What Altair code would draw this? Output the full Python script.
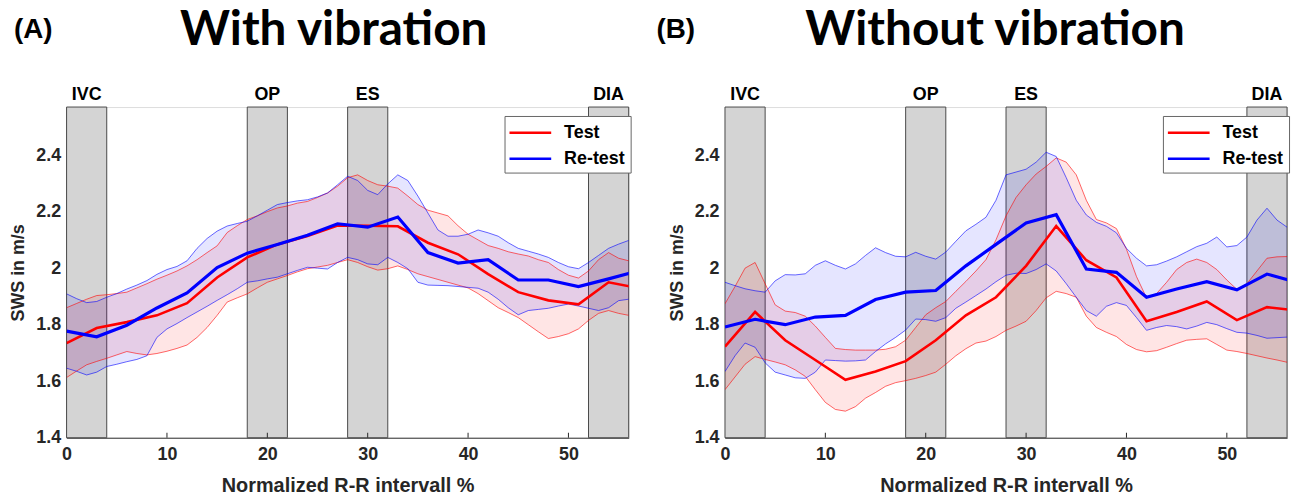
import altair as alt
import pandas as pd

# ---------------- data ----------------
SERIES = ["Test", "Re-test"]
COLORS = ["#ff0000", "#0000ff"]

X_GRID = list(range(0, 58))          # x positions of the SD band edges
MEAN_X = list(range(0, 58, 3))       # knots of the mean curves

PHASES = ["IVC", "OP", "ES", "DIA"]
PHASE_START = [0, 18, 28, 52]
PHASE_END = [4, 22, 32, 56]

X_TICKS = [0, 10, 20, 30, 40, 50]
Y_TICKS = [1.4, 1.6, 1.8, 2.0, 2.2, 2.4]

# (A) With vibration
A_TEST_MEAN = [1.735, 1.788, 1.809, 1.833, 1.876, 1.967, 2.038, 2.084, 2.114, 2.151,
               2.150, 2.148, 2.090, 2.049, 1.979, 1.915, 1.886, 1.872, 1.950, 1.929]
A_RETEST_MEAN = [1.777, 1.757, 1.798, 1.859, 1.912, 2.002, 2.053, 2.084, 2.116, 2.157,
                 2.145, 2.181, 2.055, 2.018, 2.030, 1.958, 1.958, 1.935, 1.962, 1.991]
A_TEST_HI = [1.860, 1.875, 1.890, 1.903, 1.906, 1.910, 1.915, 1.930, 1.945, 1.961,
             1.975, 1.990, 2.008, 2.030, 2.055, 2.079, 2.126, 2.150, 2.172, 2.185,
             2.200, 2.213, 2.220, 2.230, 2.236, 2.250, 2.266, 2.290, 2.320, 2.330,
             2.310, 2.295, 2.290, 2.283, 2.255, 2.225, 2.205, 2.195, 2.185, 2.150,
             2.120, 2.100, 2.080, 2.070, 2.058, 2.050, 2.043, 2.030, 2.020, 1.995,
             1.975, 1.965, 1.990, 2.030, 2.055, 2.035, 2.026, 2.026]
A_TEST_LO = [1.613, 1.636, 1.658, 1.670, 1.681, 1.693, 1.705, 1.698, 1.693, 1.698,
             1.706, 1.716, 1.728, 1.755, 1.790, 1.833, 1.880, 1.895, 1.909, 1.930,
             1.950, 1.962, 1.974, 1.987, 1.998, 2.004, 2.010, 2.020, 2.030, 2.020,
             2.005, 1.993, 1.998, 2.008, 1.995, 1.980, 1.970, 1.960, 1.950, 1.940,
             1.930, 1.910, 1.885, 1.860, 1.843, 1.825, 1.800, 1.775, 1.751, 1.758,
             1.768, 1.785, 1.815, 1.840, 1.850, 1.840, 1.833, 1.830]
A_RETEST_HI = [1.909, 1.892, 1.878, 1.882, 1.897, 1.910, 1.926, 1.940, 1.956, 1.978,
               1.995, 2.006, 2.026, 2.070, 2.105, 2.131, 2.149, 2.158, 2.166, 2.185,
               2.205, 2.225, 2.232, 2.238, 2.242, 2.252, 2.266, 2.295, 2.325, 2.310,
               2.275, 2.260, 2.298, 2.330, 2.310, 2.255, 2.195, 2.135, 2.113, 2.113,
               2.120, 2.135, 2.125, 2.113, 2.090, 2.070, 2.060, 2.050, 2.038, 2.020,
               2.005, 1.998, 2.020, 2.045, 2.070, 2.085, 2.098, 2.102]
A_RETEST_LO = [1.646, 1.635, 1.622, 1.632, 1.652, 1.660, 1.669, 1.677, 1.690, 1.755,
               1.785, 1.804, 1.825, 1.845, 1.865, 1.886, 1.906, 1.927, 1.950, 1.955,
               1.962, 1.968, 1.980, 1.992, 2.003, 2.000, 1.997, 2.020, 2.038, 2.030,
               2.015, 2.012, 2.038, 2.020, 1.998, 1.950, 1.940, 1.939, 1.938, 1.935,
               1.932, 1.929, 1.915, 1.890, 1.860, 1.835, 1.850, 1.854, 1.858, 1.866,
               1.873, 1.866, 1.858, 1.850, 1.860, 1.885, 1.890, 1.882]

# (B) Without vibration
B_TEST_MEAN = [1.722, 1.845, 1.745, 1.675, 1.605, 1.634, 1.671, 1.745, 1.833, 1.897,
               2.008, 2.149, 2.028, 1.967, 1.812, 1.845, 1.882, 1.816, 1.862, 1.850]
B_RETEST_MEAN = [1.792, 1.819, 1.800, 1.827, 1.833, 1.889, 1.915, 1.921, 2.008, 2.084,
                 2.160, 2.189, 1.997, 1.985, 1.897, 1.926, 1.952, 1.923, 1.979, 1.950]
B_TEST_HI = [1.874, 1.935, 2.000, 2.020, 1.945, 1.870, 1.848, 1.843, 1.830, 1.795,
             1.755, 1.716, 1.712, 1.710, 1.710, 1.710, 1.713, 1.722, 1.745, 1.790,
             1.835, 1.860, 1.882, 1.918, 1.953, 1.990, 2.030, 2.100, 2.185, 2.250,
             2.295, 2.333, 2.360, 2.390, 2.375, 2.330, 2.240, 2.172, 2.160, 2.140,
             2.067, 1.970, 1.895, 1.910, 1.950, 1.995, 2.020, 2.032, 2.020, 1.995,
             1.958, 1.925, 1.945, 1.990, 2.035, 2.040, 2.041, 2.041]
B_TEST_LO = [1.570, 1.615, 1.660, 1.687, 1.677, 1.668, 1.658, 1.640, 1.617, 1.570,
             1.525, 1.500, 1.494, 1.510, 1.540, 1.560, 1.582, 1.595, 1.602, 1.610,
             1.620, 1.632, 1.660, 1.690, 1.715, 1.735, 1.742, 1.758, 1.780, 1.795,
             1.812, 1.850, 1.895, 1.918, 1.910, 1.897, 1.830, 1.790, 1.773, 1.758,
             1.730, 1.712, 1.704, 1.708, 1.720, 1.733, 1.745, 1.748, 1.750, 1.730,
             1.710, 1.705, 1.698, 1.690, 1.682, 1.675, 1.667, 1.663]
B_RETEST_HI = [1.950, 1.938, 1.927, 1.920, 1.915, 1.955, 1.977, 1.976, 1.980, 2.010,
               2.026, 2.010, 1.997, 2.015, 2.045, 2.072, 2.055, 2.042, 2.040, 2.056,
               2.042, 2.032, 2.057, 2.095, 2.132, 2.155, 2.180, 2.240, 2.330, 2.340,
               2.350, 2.375, 2.410, 2.395, 2.320, 2.240, 2.188, 2.162, 2.148, 2.125,
               2.070, 2.035, 2.008, 2.012, 2.025, 2.040, 2.058, 2.076, 2.088, 2.110,
               2.075, 2.080, 2.110, 2.170, 2.212, 2.170, 2.145, 2.143]
B_RETEST_LO = [1.634, 1.690, 1.735, 1.720, 1.665, 1.632, 1.622, 1.612, 1.610, 1.632,
               1.675, 1.673, 1.671, 1.672, 1.675, 1.705, 1.732, 1.755, 1.781, 1.820,
               1.818, 1.812, 1.825, 1.858, 1.880, 1.903, 1.926, 1.952, 1.975, 1.982,
               1.981, 1.995, 2.015, 1.990, 1.945, 1.897, 1.850, 1.830, 1.865, 1.878,
               1.868, 1.825, 1.780, 1.790, 1.797, 1.793, 1.785, 1.795, 1.808, 1.800,
               1.786, 1.773, 1.770, 1.762, 1.752, 1.754, 1.756, 1.757]

# ---------------- styling ----------------
W, H = 566, 333
FONT = "Liberation Sans"
DARK = "#262626"

xs = alt.Scale(domain=[0, 56], nice=False, zero=False)
ys = alt.Scale(domain=[1.4, 2.57], nice=False, zero=False)
cs = alt.Scale(domain=SERIES, range=COLORS)

ax_x = alt.Axis(values=X_TICKS, title="Normalized R-R intervall %", tickSize=0, grid=False,
               labelFont=FONT, labelFontSize=18, labelFontWeight="bold", labelColor=DARK,
               labelPadding=8, labelFlush=False,
               titleFont=FONT, titleFontSize=20, titleFontWeight="bold", titleColor=DARK,
               titlePadding=12, domainColor="#333333", domainWidth=1)
ax_y = alt.Axis(values=Y_TICKS, format="~g", title="SWS in m/s", tickSize=0, grid=False,
               labelFont=FONT, labelFontSize=18, labelFontWeight="bold", labelColor=DARK,
               labelPadding=6, labelFlush=False,
               titleFont=FONT, titleFontSize=18, titleFontWeight="bold", titleColor=DARK,
               titlePadding=8, domainColor="#333333", domainWidth=1)


def legend():
    return alt.Legend(title=None, orient="none", legendX=441, legendY=9,
                      symbolType="M-2,0H2", symbolSize=441, symbolStrokeWidth=2.5,
                      symbolOffset=9, labelOffset=22,
                      labelFont=FONT, labelFontSize=18, labelFontWeight="bold", labelColor="black",
                      strokeColor="#666666", fillColor="white", padding=5, rowPadding=5)


def panel(tag, title, tm, rm, th, tl, rh, rl, tag_x, title_x):
    n = len(X_GRID)
    m = len(MEAN_X)
    bands = pd.DataFrame({"x": X_GRID * 2, "hi": th + rh, "lo": tl + rl,
                          "series": ["Test"] * n + ["Re-test"] * n})
    means = pd.DataFrame({"x": MEAN_X * 2, "y": tm + rm,
                          "series": ["Test"] * m + ["Re-test"] * m})
    phases = pd.DataFrame({"name": PHASES, "start": PHASE_START, "end": PHASE_END})
    ticks = pd.DataFrame({"t": X_TICKS[1:]})
    heads = pd.DataFrame({"tag": [tag], "title": [title]})

    X = lambda f: alt.X(f, scale=xs, axis=ax_x)

    rects = alt.Chart(phases).mark_rect(fill="#d4d4d4", stroke="#4a4a4a", strokeWidth=1).encode(
        x=X("start:Q"), x2="end:Q", y=alt.value(0), y2=alt.value(H))
    labels = alt.Chart(phases).transform_calculate(mid="(datum.start + datum.end) / 2").mark_text(
        font=FONT, fontSize=18, fontWeight="bold", color="black", baseline="alphabetic").encode(
        x=X("mid:Q"), y=alt.value(-7), text="name:N")

    layers = [rects, labels]
    for s, col in zip(SERIES, COLORS):
        b = alt.Chart(bands).transform_filter(alt.datum.series == s)
        layers.append(b.mark_area(color=col, opacity=0.1, clip=True).encode(
            x=X("x:Q"), y=alt.Y("lo:Q", scale=ys, axis=ax_y), y2="hi:Q"))
    for s, col in zip(SERIES, COLORS):
        b = alt.Chart(bands).transform_filter(alt.datum.series == s)
        for f in ["hi", "lo"]:
            layers.append(b.mark_line(color=col, opacity=0.6, strokeWidth=1, clip=True).encode(
                x=X("x:Q"), y=alt.Y(f + ":Q", scale=ys, axis=ax_y)))
    for s, sw in zip(SERIES, [2.6, 3.2]):
        layers.append(alt.Chart(means).transform_filter(alt.datum.series == s).mark_line(
            strokeWidth=sw, clip=True).encode(
            x=X("x:Q"), y=alt.Y("y:Q", scale=ys, axis=ax_y),
            color=alt.Color("series:N", scale=cs, legend=legend())))
    layers.append(alt.Chart(ticks).mark_rule(color=DARK, strokeWidth=1).encode(
        x=X("t:Q"), y=alt.value(H), y2=alt.value(H - 5)))
    layers.append(alt.Chart(heads).mark_text(
        font="Lato", fontSize=48, fontWeight="bold", color="black", baseline="middle").encode(
        x=alt.value(title_x), y=alt.value(-76.5), text="title:N"))
    layers.append(alt.Chart(heads).mark_text(
        font=FONT, fontSize=28, fontWeight="bold", color="black", baseline="middle", align="left").encode(
        x=alt.value(tag_x), y=alt.value(-78), text="tag:N"))

    return alt.layer(*layers).properties(width=W, height=H)


left = panel("(A)", "With vibration", A_TEST_MEAN, A_RETEST_MEAN,
             A_TEST_HI, A_TEST_LO, A_RETEST_HI, A_RETEST_LO, tag_x=-53, title_x=269)
right = panel("(B)", "Without vibration", B_TEST_MEAN, B_RETEST_MEAN,
              B_TEST_HI, B_TEST_LO, B_RETEST_HI, B_RETEST_LO, tag_x=-69, title_x=272)

chart = alt.hconcat(left, right, spacing=97, bounds="flush").resolve_legend(
    color="independent").properties(
    padding={"left": 1, "top": -3, "right": 5, "bottom": 5}).configure_view(
    stroke=None).configure(background="white")

chart.save("out.html", embed_options={"renderer": "svg", "actions": False})
